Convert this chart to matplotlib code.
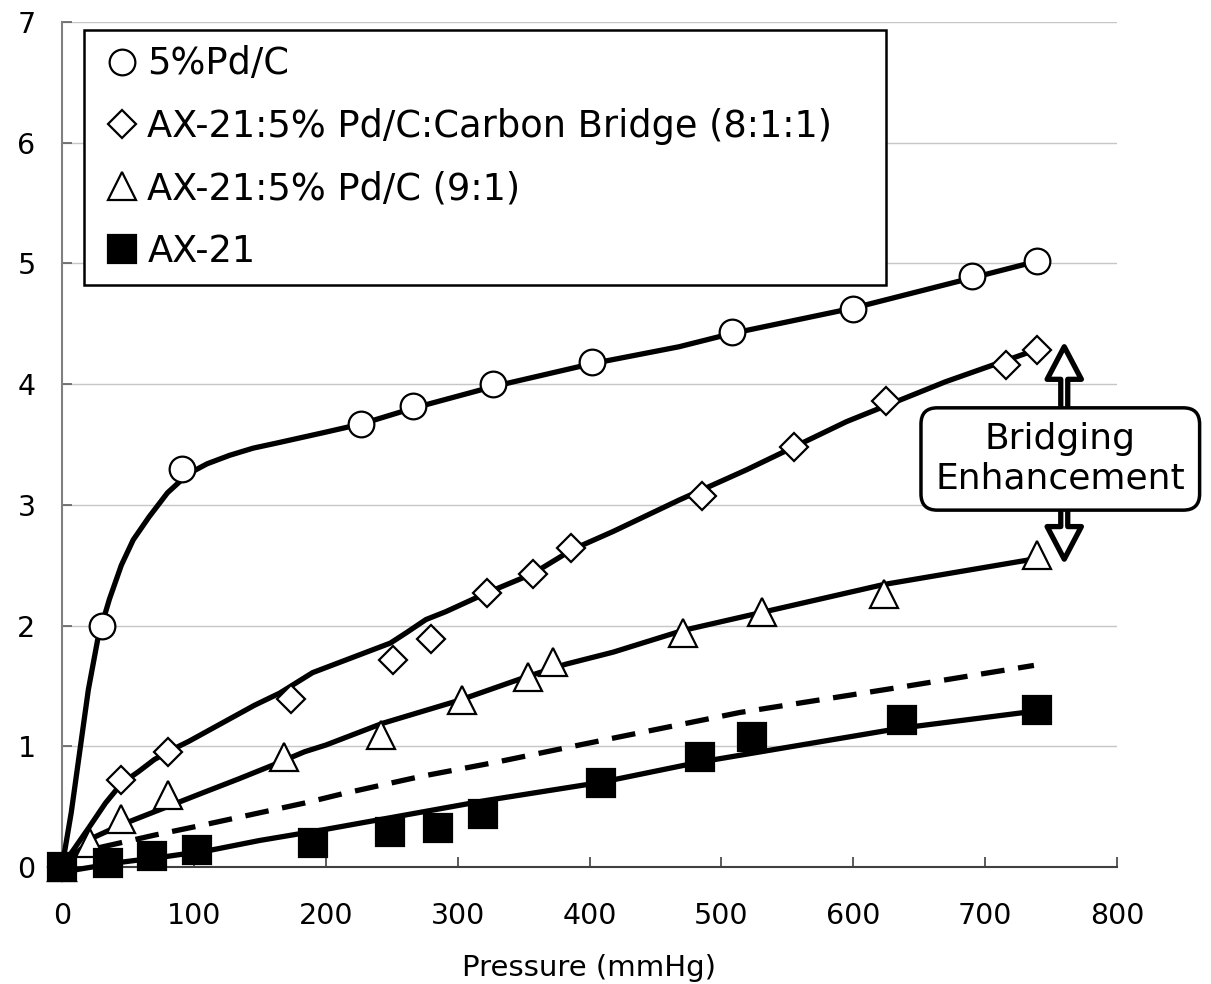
import matplotlib
matplotlib.use("Agg")
import matplotlib.pyplot as plt
from matplotlib.patches import FancyArrow

plt.rcParams['font.family'] = ['DejaVu Sans']

# ---------------- data ----------------
pdc_x = [0, 30, 91, 227, 266, 327, 402, 508, 600, 690, 739]
pdc_y = [0, 2.0, 3.3, 3.67, 3.82, 4.0, 4.18, 4.43, 4.62, 4.90, 5.02]

bridge_x = [0, 45, 80.5, 174, 251, 280, 322, 357, 386, 485, 555, 625, 716, 739]
bridge_y = [0, 0.72, 0.955, 1.39, 1.715, 1.89, 2.27, 2.43, 2.64, 3.07, 3.48, 3.86, 4.16, 4.28]

mix_x = [0, 21, 45, 80, 168, 242, 303, 353, 372, 471, 531, 623, 739]
mix_y = [0, 0.2, 0.40, 0.60, 0.91, 1.09, 1.38, 1.575, 1.70, 1.935, 2.11, 2.26, 2.585]

ax21_x = [0, 34.6, 68, 102, 190, 249, 285, 319, 409, 484, 523, 637, 739]
ax21_y = [0, 0.036, 0.09, 0.14, 0.2, 0.29, 0.32, 0.44, 0.70, 0.91, 1.08, 1.22, 1.30]

# fitted curves
pdc_fit_x = [0, 7, 14, 20, 27, 30, 36, 45, 54, 66, 80, 91, 98, 110, 127, 145, 162,
             199, 227, 266, 327, 402, 468, 508, 600, 690, 740]
pdc_fit_y = [0, 0.45, 1.0, 1.47, 1.88, 2.0, 2.22, 2.5, 2.71, 2.90, 3.10, 3.21, 3.27,
             3.34, 3.41, 3.47, 3.51, 3.60, 3.67, 3.80, 3.98, 4.17, 4.31, 4.42, 4.63,
             4.88, 5.02]

bridge_fit_x = [0, 6, 20, 33, 45, 58, 70, 83, 96, 121, 146, 165, 190, 249, 261, 276,
                291, 322, 357, 387, 418, 468, 519, 595, 670, 731, 740]
bridge_fit_y = [0, 0.10, 0.32, 0.53, 0.69, 0.79, 0.89, 0.97, 1.04, 1.19, 1.34, 1.44,
                1.61, 1.855, 1.94, 2.05, 2.115, 2.27, 2.43, 2.63, 2.78, 3.04, 3.29,
                3.69, 4.02, 4.255, 4.29]

mix_fit_x = [0, 5, 25, 45, 80, 108, 134, 159, 184, 200, 243, 301, 352, 382, 418, 471,
             531, 623, 731, 740]
mix_fit_y = [0, 0.06, 0.25, 0.35, 0.50, 0.62, 0.73, 0.84, 0.955, 1.01, 1.19, 1.38,
             1.575, 1.68, 1.78, 1.96, 2.11, 2.34, 2.54, 2.56]

dash_fit_x = [28, 70.5, 108, 146, 184, 214, 272, 330, 392, 514, 636, 737]
dash_fit_y = [0.16, 0.265, 0.35, 0.44, 0.53, 0.61, 0.75, 0.87, 1.01, 1.28, 1.49, 1.67]

ax21_fit_x = [0, 12, 45, 78, 113, 150, 199, 321, 408, 484, 636, 737]
ax21_fit_y = [-0.05, -0.02, 0.04, 0.085, 0.14, 0.22, 0.31, 0.55, 0.70, 0.87, 1.15, 1.29]

labels = ["5%Pd/C", "AX-21:5% Pd/C:Carbon Bridge (8:1:1)", "AX-21:5% Pd/C (9:1)", "AX-21"]
xticks = [0, 100, 200, 300, 400, 500, 600, 700, 800]
yticks = [0, 1, 2, 3, 4, 5, 6, 7]

# ---------------- figure ----------------
W, H = 1211, 984
fig = plt.figure(figsize=(W / 100, H / 100), dpi=100)
ax = fig.add_axes([62 / W, 1 - 867 / H, (1117 - 62) / W, (867 - 22) / H])

LW = 3.8
line_kw = dict(color='black', lw=LW, zorder=3, clip_on=False, solid_capstyle='round',
               solid_joinstyle='round')
ax.plot(pdc_fit_x, pdc_fit_y, **line_kw)
ax.plot(bridge_fit_x, bridge_fit_y, **line_kw)
ax.plot(mix_fit_x, mix_fit_y, **line_kw)
ax.plot(ax21_fit_x, ax21_fit_y, **line_kw)
ax.plot(dash_fit_x, dash_fit_y, color='black', lw=LW, zorder=3, linestyle=(0, (4.5, 2.6)),
        dash_capstyle='butt')

mk = dict(linestyle='none', zorder=4, clip_on=False, markeredgecolor='black',
          markeredgewidth=1.6)
h1, = ax.plot(pdc_x, pdc_y, marker='o', markersize=18.5, markerfacecolor='white', **mk)
h2, = ax.plot(bridge_x, bridge_y, marker='D', markersize=14.5, markerfacecolor='white', **mk)
h3, = ax.plot(mix_x, mix_y, marker='^', markersize=20, markerfacecolor='white', **mk)
h4, = ax.plot(ax21_x, ax21_y, marker='s', markersize=20, markerfacecolor='black', **mk)

ax.set_xlim(0, 800)
ax.set_ylim(0, 7)
ax.set_xticks(xticks)
ax.set_xticklabels([str(t) for t in xticks])
ax.set_yticks(yticks)
ax.set_yticklabels([str(t) for t in yticks])

ax.set_axisbelow(True)
ax.yaxis.grid(True, color='#c6c6c6', lw=1.0)
ax.xaxis.grid(False)

for s in ['top', 'right']:
    ax.spines[s].set_visible(False)
ax.spines['left'].set_color('#808080')
ax.spines['left'].set_linewidth(1.5)
ax.spines['bottom'].set_color('#404040')
ax.spines['bottom'].set_linewidth(1.5)

ax.tick_params(axis='x', direction='in', length=7, width=1.2, color='#404040',
               labelsize=20.5, pad=25)
ax.tick_params(axis='y', direction='in', length=7, width=1.2, color='#606060',
               labelsize=20.5, pad=19)

ax.set_xlabel("Pressure (mmHg)", fontsize=21)
ax.xaxis.set_label_coords(0.5, -0.1195)
ax.xaxis.label.set_verticalalignment('center')

leg = ax.legend([h1, h2, h3, h4], labels, loc='upper left',
                bbox_to_anchor=(22 / 1055, (867 - 30) / 845, (886 - 84) / 1055, 0),
                mode='expand', borderaxespad=0, fontsize=26.5, fancybox=False,
                framealpha=1, edgecolor='black', handlelength=1.2, handletextpad=0.1,
                labelspacing=0.69, borderpad=0.42)
leg.get_frame().set_linewidth(1.8)
leg.set_zorder(10)

# ---------------- annotation ----------------
arrow_kw = dict(width=5.3, head_width=26, head_length=0.27, length_includes_head=True,
                fc='white', ec='black', lw=3.8, zorder=6, clip_on=False,
                joinstyle='round')
ax.add_patch(FancyArrow(760, 3.38, 0, 0.93, **arrow_kw))
ax.add_patch(FancyArrow(760, 3.38, 0, -0.83, **arrow_kw))

ax.text(757, 3.38, "Bridging\nEnhancement", ha='center', va='center', fontsize=26,
        zorder=7, clip_on=False,
        bbox=dict(boxstyle='round,pad=0.4,rounding_size=0.45', fc='white', ec='black',
                  lw=2.5))

fig.savefig("out.png", dpi=100)
